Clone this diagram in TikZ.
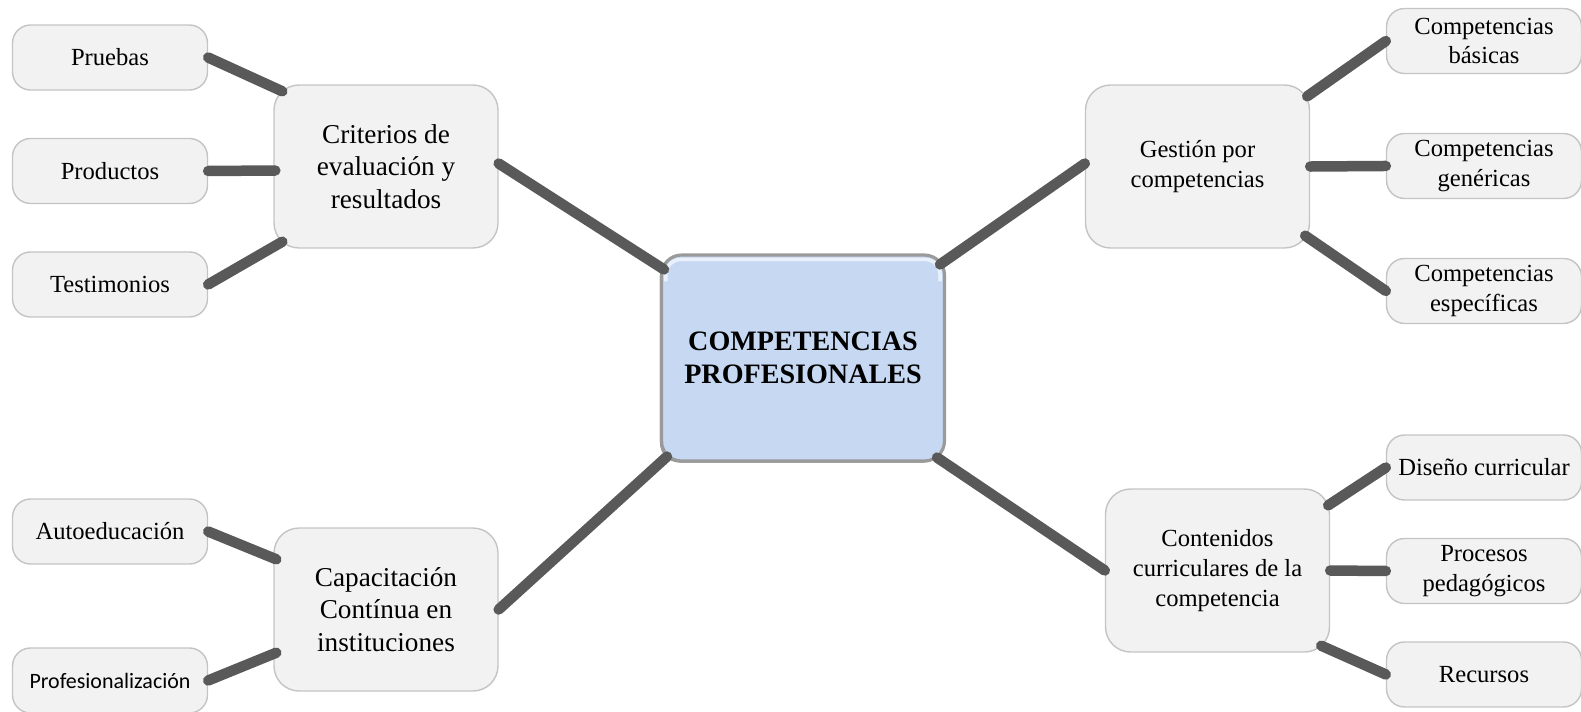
\documentclass[tikz,border=0pt]{standalone}
\usepackage{fontspec}
\setmainfont{Liberation Serif}
\newfontfamily\calfont{Carlito}
\usetikzlibrary{shadows}
\definecolor{boxfill}{HTML}{F2F2F2}
\definecolor{boxline}{HTML}{C4C4C4}
\definecolor{linkgray}{HTML}{595959}
\definecolor{coreblue}{HTML}{C6D8F2}
\definecolor{coreedge}{HTML}{9A9A9A}

\begin{document}
\begin{tikzpicture}[x=0.02cm,y=-0.02cm]
   \tikzstyle{leaf}=[fill=boxfill,draw=boxline,line width=0.8pt,rounded corners=0.36cm,minimum width=3.9cm,minimum height=1.3cm,inner sep=2pt,align=center,font=\fontsize{14}{17}\selectfont]
   \tikzstyle{hub}=[leaf,minimum width=4.48cm,minimum height=3.26cm,rounded corners=0.5cm]
   \tikzstyle{bighub}=[hub,font=\fontsize{15.5}{18.5}\selectfont]
   \tikzstyle{core}=[fill=coreblue,draw=coreedge,line width=1.8pt,rounded corners=0.4cm,minimum width=5.66cm,minimum height=4.12cm,align=center,font=\fontsize{16}{19}\selectfont\bfseries,drop shadow={shadow xshift=-0.9pt,shadow yshift=-0.9pt,fill=black!60,opacity=0.8}]
   \tikzstyle{link}=[draw=linkgray,line width=0.21cm,line cap=round]
   \useasboundingbox (0,0) rectangle (1581,711);
   % centre and the four branches
   \node (core) [core] at (803,358) {COMPETENCIAS\\PROFESIONALES} ;
   \draw [white!65!coreblue,line width=2pt,rounded corners=0.3cm] ([shift={(6,28)}]core.north west) -- ([shift={(6,6)}]core.north west) -- ([shift={(-6,6)}]core.north east) -- ([shift={(-6,28)}]core.north east) ;
   \node (crit) [bighub] at (386,166.5) {Criterios de\\evaluación y\\resultados} ;
   \node (gest) [hub] at (1197.5,166.5) {Gestión por\\competencias} ;
   \node (cont) [hub] at (1217.5,570.5) {Contenidos\\curriculares de la\\competencia} ;
   \node (capa) [bighub] at (386,609.5) {Capacitación\\Contínua en\\instituciones} ;
   % leaves
   \node (pru) [leaf] at (110,57.5) {Pruebas} ;
   \node (prod) [leaf,below of=pru,node distance=2.27cm] {Productos} ;
   \node (test) [leaf,below of=prod,node distance=2.27cm] {Testimonios} ;
   \node (basic) [leaf] at (1484,41) {Competencias\\básicas} ;
   \node (gener) [leaf,below of=basic,node distance=2.5cm] {Competencias\\genéricas} ;
   \node (espec) [leaf,below of=gener,node distance=2.5cm] {Competencias\\específicas} ;
   \node (dise) [leaf] at (1484,467.5) {Diseño curricular} ;
   \node (proc) [leaf,below of=dise,node distance=2.07cm] {Procesos\\pedagógicos} ;
   \node (recu) [leaf,below of=proc,node distance=2.07cm] {Recursos} ;
   \node (auto) [leaf] at (110,531.5) {Autoeducación} ;
   \node (prof) [leaf,below of=auto,node distance=2.98cm,font=\calfont\fontsize{12.5}{15}\selectfont] {Profesionalización} ;
   % links
   \path [link] ([shift={(0,-3)}]crit.east) -- ([shift={(4,16)}]core.north west) ;
   \path [link] ([shift={(0,-3)}]gest.west) -- ([shift={(-6,11)}]core.north east) ;
   \path [link] (cont.west) -- ([shift={(-9,-5)}]core.south east) ;
   \path [link] (capa.east) -- ([shift={(7,-6)}]core.south west) ;
   \path [link] (pru.east) -- ([shift={(9,7)}]crit.north west) ;
   \path [link] (prod.east) -- ([shift={(2,4)}]crit.west) ;
   \path [link] (test.east) -- ([shift={(9,-7)}]crit.south west) ;
   \path [link] ([shift={(-3,12)}]gest.north east) -- (basic.west) ;
   \path [link] (gest.east) -- (gener.west) ;
   \path [link] ([shift={(-5,-13)}]gest.south east) -- (espec.west) ;
   \path [link] ([shift={(-2,17)}]cont.north east) -- (dise.west) ;
   \path [link] (cont.east) -- (proc.west) ;
   \path [link] ([shift={(-9,-7)}]cont.south east) -- (recu.west) ;
   \path [link] (auto.east) -- ([shift={(3,32)}]capa.north west) ;
   \path [link] (prof.east) -- ([shift={(3,-39)}]capa.south west) ;
\end{tikzpicture}
\end{document}
